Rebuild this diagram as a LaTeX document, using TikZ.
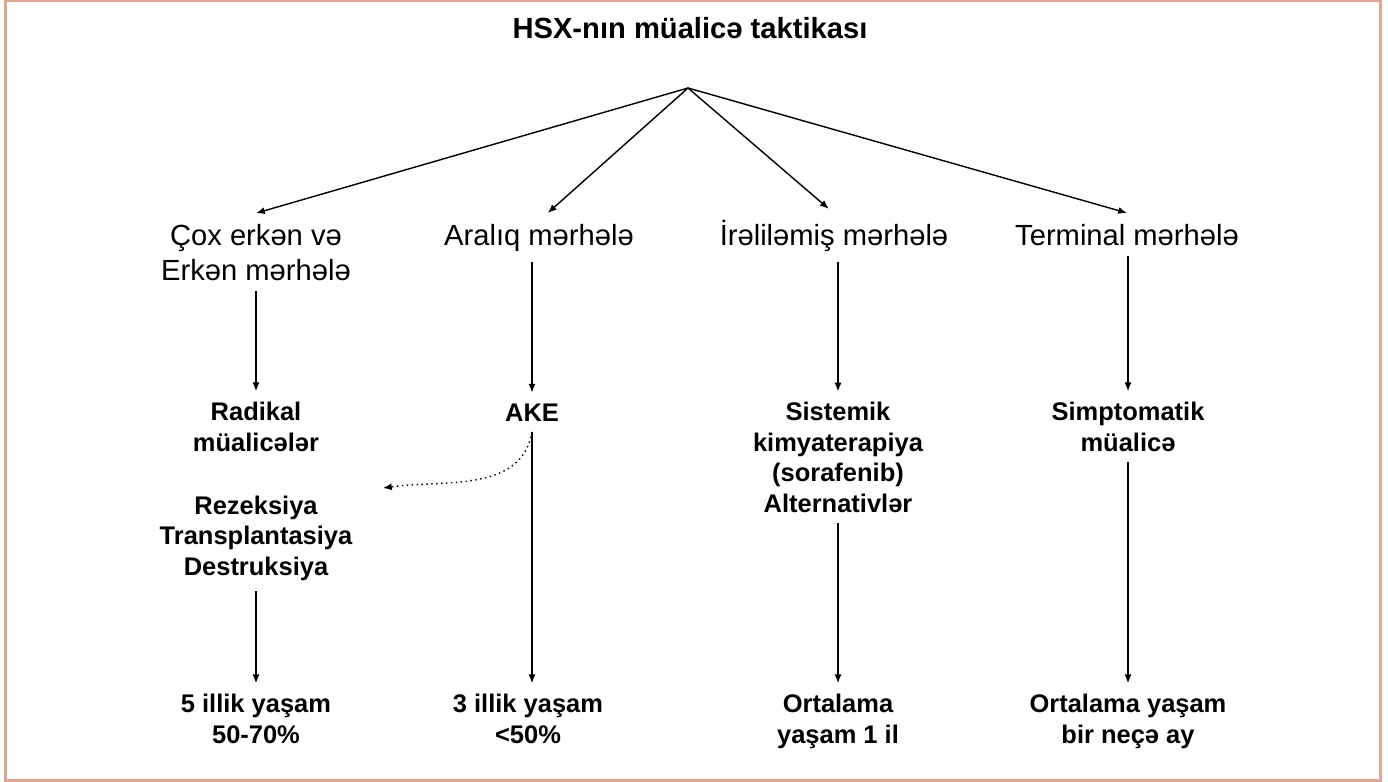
\documentclass[tikz,border=0pt]{standalone}
\usepackage{fontspec}
\setmainfont{Liberation Sans}
\usepackage{xcolor}
\usetikzlibrary{arrows.meta,positioning}
\definecolor{framecol}{HTML}{E1A591}

\begin{document}
\begin{tikzpicture}[
  x=0.02cm, y=-0.02cm,
  stage/.style={align=center,anchor=base,inner sep=6pt,font=\fontsize{16.6}{19.8}\selectfont},
  res/.style={align=center,anchor=base,inner sep=6pt,font=\fontsize{14.5}{17.3}\selectfont\bfseries},
  arr/.style={-{Latex[length=5pt,width=4pt]},line width=0.8pt},
  dots/.style={-{Latex[length=5pt,width=4pt]},dotted,line width=0.8pt},
]
\useasboundingbox (0,0) rectangle (1388,781);
\draw[framecol,line width=1.7pt] (5.5,1) rectangle (1380.5,780);

\node[anchor=base,font=\fontsize{16.6}{19}\selectfont\bfseries] (title) at (690,38) {HSX-nın müalicə taktikası};
\coordinate (apex) at (688,88);

\node[stage] (s1) at (256,280) {Çox erkən və\\Erkən mərhələ};
\node[stage] (s2) at (539,245) {Aralıq mərhələ};
\node[stage] (s3) at (834,245) {İrəliləmiş mərhələ};
\node[stage] (s4) at (1127,245) {Terminal mərhələ};

\node[res] (r1) at (256,451) {Radikal\\müalicələr};
\node[res] (r2) at (532,421) {AKE};
\node[res] (r3) at (838,512) {Sistemik\\kimyaterapiya\\(sorafenib)\\Alternativlər};
\node[res] (r4) at (1128,451) {Simptomatik\\müalicə};
\node[res] (rez) at (256,575) {Rezeksiya\\Transplantasiya\\Destruksiya};

\node[res] (o1) at (256,743) {5 illik yaşam\\50-70\%};
\node[res] (o2) at (528,743) {3 illik yaşam\\<50\%};
\node[res] (o3) at (838,743) {Ortalama\\yaşam 1 il};
\node[res] (o4) at (1128,743) {Ortalama yaşam\\bir neçə ay};
\coordinate (back) at (383,488);

\draw[arr] (apex) -- (s1.north);
\draw[arr] (apex) -- ([xshift=5pt]s2.north);
\draw[arr] (apex) -- ([xshift=-3pt]s3.north);
\draw[arr] (apex) -- (s4.north);
\draw[arr] (s1) -- (r1);
\draw[arr] (s2.south -| r2) -- (r2);
\draw[arr] (s3.south -| r3) -- (r3);
\draw[arr] (s4.south -| r4) -- (r4);
\draw[arr] (rez) -- (o1);
\draw[arr] (r2) -- (r2 |- o2.north);
\draw[arr] (r3) -- (o3);
\draw[arr] (r4) -- (o4);
\draw[dots] (r2.south) to[out=-100,in=8] (back);
\end{tikzpicture}
\end{document}
